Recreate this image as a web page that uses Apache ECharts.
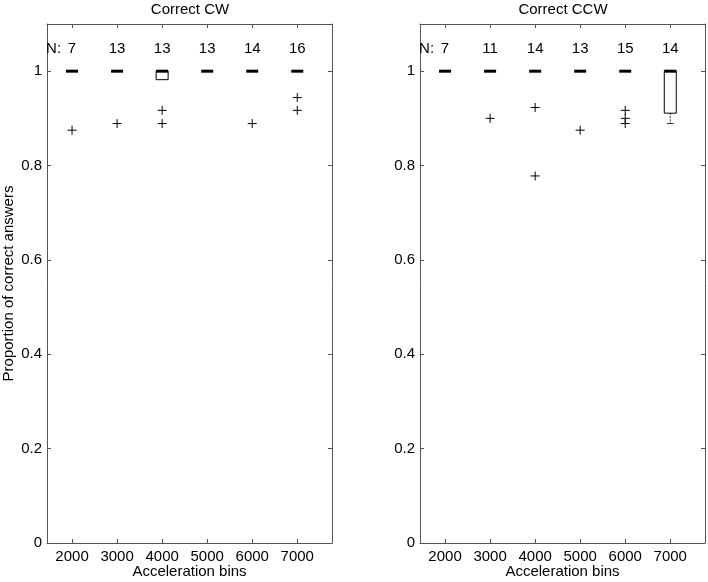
<!DOCTYPE html>
<html>
<head>
<meta charset="utf-8">
<script src="https://cdn.jsdelivr.net/npm/echarts@6/dist/echarts.min.js"></script>
<style>html,body{margin:0;padding:0;background:#fff}#c{width:708px;height:582px}</style>
</head>
<body>
<div id="c"></div>
<script>
const bins = [2000, 3000, 4000, 5000, 6000, 7000];
const yTicks = [0, 0.2, 0.4, 0.6, 0.8, 1];

// Correct CW
const cwN = [7, 13, 13, 13, 14, 16];
const cwWhiskerLow = [1, 1, 0.982, 1, 1, 1];
const cwQ1 = [1, 1, 0.982, 1, 1, 1];
const cwMedian = [1, 1, 1, 1, 1, 1];
const cwQ3 = [1, 1, 1, 1, 1, 1];
const cwWhiskerHigh = [1, 1, 1, 1, 1, 1];
const cwOutlierBins = [2000, 3000, 4000, 4000, 6000, 7000, 7000];
const cwOutlierValues = [0.875, 0.889, 0.917, 0.889, 0.889, 0.944, 0.917];

// Correct CCW
const ccwN = [7, 11, 14, 13, 15, 14];
const ccwWhiskerLow = [1, 1, 1, 1, 1, 0.889];
const ccwQ1 = [1, 1, 1, 1, 1, 0.911];
const ccwMedian = [1, 1, 1, 1, 1, 1];
const ccwQ3 = [1, 1, 1, 1, 1, 1];
const ccwWhiskerHigh = [1, 1, 1, 1, 1, 1];
const ccwOutlierBins = [3000, 4000, 4000, 5000, 6000, 6000, 6000];
const ccwOutlierValues = [0.9, 0.923, 0.778, 0.875, 0.917, 0.9, 0.889];

const nLabelLevel = 1.048;
const FONT = '"Liberation Sans", Arial, sans-serif';
const AX = '#555';

const chart = echarts.init(document.getElementById('c'), null, {renderer: 'canvas'});

function boxData(lo, q1, med, q3, hi) {
  return bins.map((b, i) => [b, lo[i], q1[i], med[i], q3[i], hi[i]]);
}
function boxRender(params, api) {
  const x = api.value(0);
  const lo = api.value(1), q1 = api.value(2), med = api.value(3), q3 = api.value(4), hi = api.value(5);
  const pLo = api.coord([x, lo]), pQ1 = api.coord([x, q1]), pMed = api.coord([x, med]),
        pQ3 = api.coord([x, q3]), pHi = api.coord([x, hi]);
  const hw = 6, cw = 3.5;
  const children = [];
  if (pQ1[1] - pQ3[1] > 0.5) {
    children.push({type: 'rect', shape: {x: pQ3[0] - hw, y: pQ3[1], width: 2 * hw, height: pQ1[1] - pQ3[1]},
      style: {fill: 'none', stroke: '#000', lineWidth: 1}});
  }
  if (pLo[1] - pQ1[1] > 0.5) {
    children.push({type: 'line', shape: {x1: pLo[0], y1: pQ1[1], x2: pLo[0], y2: pLo[1]},
      style: {stroke: '#333', lineWidth: 1, lineDash: [2, 1]}});
    children.push({type: 'line', shape: {x1: pLo[0] - cw, y1: pLo[1], x2: pLo[0] + cw, y2: pLo[1]},
      style: {stroke: '#333', lineWidth: 1}});
  }
  if (pQ3[1] - pHi[1] > 0.5) {
    children.push({type: 'line', shape: {x1: pHi[0], y1: pQ3[1], x2: pHi[0], y2: pHi[1]},
      style: {stroke: '#333', lineWidth: 1, lineDash: [2, 1]}});
    children.push({type: 'line', shape: {x1: pHi[0] - cw, y1: pHi[1], x2: pHi[0] + cw, y2: pHi[1]},
      style: {stroke: '#333', lineWidth: 1}});
  }
  children.push({type: 'line', shape: {x1: pMed[0] - hw, y1: pMed[1], x2: pMed[0] + hw, y2: pMed[1]},
    style: {stroke: '#000', lineWidth: 3}});
  return {type: 'group', children};
}
function plusRender(params, api) {
  const p = api.coord([api.value(0), api.value(1)]);
  const s = 4.5;
  return {type: 'group', children: [
    {type: 'line', shape: {x1: p[0] - s, y1: p[1], x2: p[0] + s, y2: p[1]}, style: {stroke: '#000', lineWidth: 1}},
    {type: 'line', shape: {x1: p[0], y1: p[1] - s, x2: p[0], y2: p[1] + s}, style: {stroke: '#000', lineWidth: 1}}
  ]};
}
function nRender(params, api) {
  const p = api.coord([api.value(0), nLabelLevel]);
  const children = [{type: 'text', x: p[0], y: p[1],
    style: {text: String(api.value(1)), textAlign: 'center', textVerticalAlign: 'middle', font: '15px ' + FONT, fill: '#000'}}];
  if (params.dataIndex === 0) {
    children.push({type: 'text', x: p[0] - 11, y: p[1],
      style: {text: 'N:', textAlign: 'right', textVerticalAlign: 'middle', font: '15px ' + FONT, fill: '#000'}});
  }
  return {type: 'group', children};
}

const xMin = 1444, xMax = 7771;
function xAxisDef(gi, pos, withLabels) {
  return {
    type: 'value', gridIndex: gi, position: pos, min: xMin, max: xMax,
    axisLine: {show: true, onZero: false, lineStyle: {color: AX, width: 1}},
    axisTick: {show: true, inside: true, length: 4, customValues: bins, lineStyle: {color: AX}},
    axisLabel: {show: withLabels, customValues: bins, margin: 6, color: '#000', fontSize: 15, fontFamily: FONT,
      formatter: v => String(v)},
    splitLine: {show: false},
    name: withLabels ? 'Acceleration bins' : '',
    nameLocation: 'middle', nameGap: 21, nameMoveOverlap: false,
    nameTextStyle: {color: '#000', fontSize: 15, fontFamily: FONT}
  };
}
function yAxisDef(gi, pos, withLabels, name) {
  return {
    type: 'value', gridIndex: gi, position: pos, min: 0, max: 1.1, interval: 0.2,
    axisLine: {show: true, onZero: false, lineStyle: {color: AX, width: 1}},
    axisTick: {show: true, inside: true, length: 4, customValues: yTicks, lineStyle: {color: AX}},
    axisLabel: {show: withLabels, customValues: yTicks, margin: 5, color: '#000', fontSize: 15, fontFamily: FONT,
      formatter: v => (v > 1.05 ? '' : (Math.abs(v) < 1e-9 ? '0' : (Math.abs(v - 1) < 1e-9 ? '1' : v.toFixed(1))))},
    splitLine: {show: false},
    name: name || '', nameLocation: 'middle', nameGap: 31, nameMoveOverlap: false,
    nameTextStyle: {color: '#000', fontSize: 15, fontFamily: FONT}
  };
}

const option = {
  animation: false,
  backgroundColor: '#fff',
  title: [
    {text: 'Correct CW', left: 190, top: 2, padding: 0, textAlign: 'center',
      textStyle: {fontSize: 15, fontWeight: 'normal', color: '#000', fontFamily: FONT}},
    {text: 'Correct CCW', left: 563, top: 2, padding: 0, textAlign: 'center',
      textStyle: {fontSize: 15, fontWeight: 'normal', color: '#000', fontFamily: FONT}}
  ],
  grid: [
    {left: 47, top: 24, width: 285, height: 519, outerBoundsMode: 'none', containLabel: false},
    {left: 420, top: 24, width: 285, height: 519, outerBoundsMode: 'none', containLabel: false}
  ],
  xAxis: [
    xAxisDef(0, 'bottom', true), xAxisDef(0, 'top', false),
    xAxisDef(1, 'bottom', true), xAxisDef(1, 'top', false)
  ],
  yAxis: [
    yAxisDef(0, 'left', true, 'Proportion of correct answers'), yAxisDef(0, 'right', false),
    yAxisDef(1, 'left', true), yAxisDef(1, 'right', false)
  ],
  series: [
    {type: 'custom', xAxisIndex: 0, yAxisIndex: 0, renderItem: boxRender,
      data: boxData(cwWhiskerLow, cwQ1, cwMedian, cwQ3, cwWhiskerHigh), clip: false},
    {type: 'custom', xAxisIndex: 0, yAxisIndex: 0, renderItem: plusRender,
      data: cwOutlierBins.map((b, i) => [b, cwOutlierValues[i]])},
    {type: 'custom', xAxisIndex: 0, yAxisIndex: 0, renderItem: nRender,
      data: bins.map((b, i) => [b, cwN[i]])},
    {type: 'custom', xAxisIndex: 2, yAxisIndex: 2, renderItem: boxRender,
      data: boxData(ccwWhiskerLow, ccwQ1, ccwMedian, ccwQ3, ccwWhiskerHigh), clip: false},
    {type: 'custom', xAxisIndex: 2, yAxisIndex: 2, renderItem: plusRender,
      data: ccwOutlierBins.map((b, i) => [b, ccwOutlierValues[i]])},
    {type: 'custom', xAxisIndex: 2, yAxisIndex: 2, renderItem: nRender,
      data: bins.map((b, i) => [b, ccwN[i]])}
  ]
};
chart.setOption(option);
</script>
</body>
</html>
